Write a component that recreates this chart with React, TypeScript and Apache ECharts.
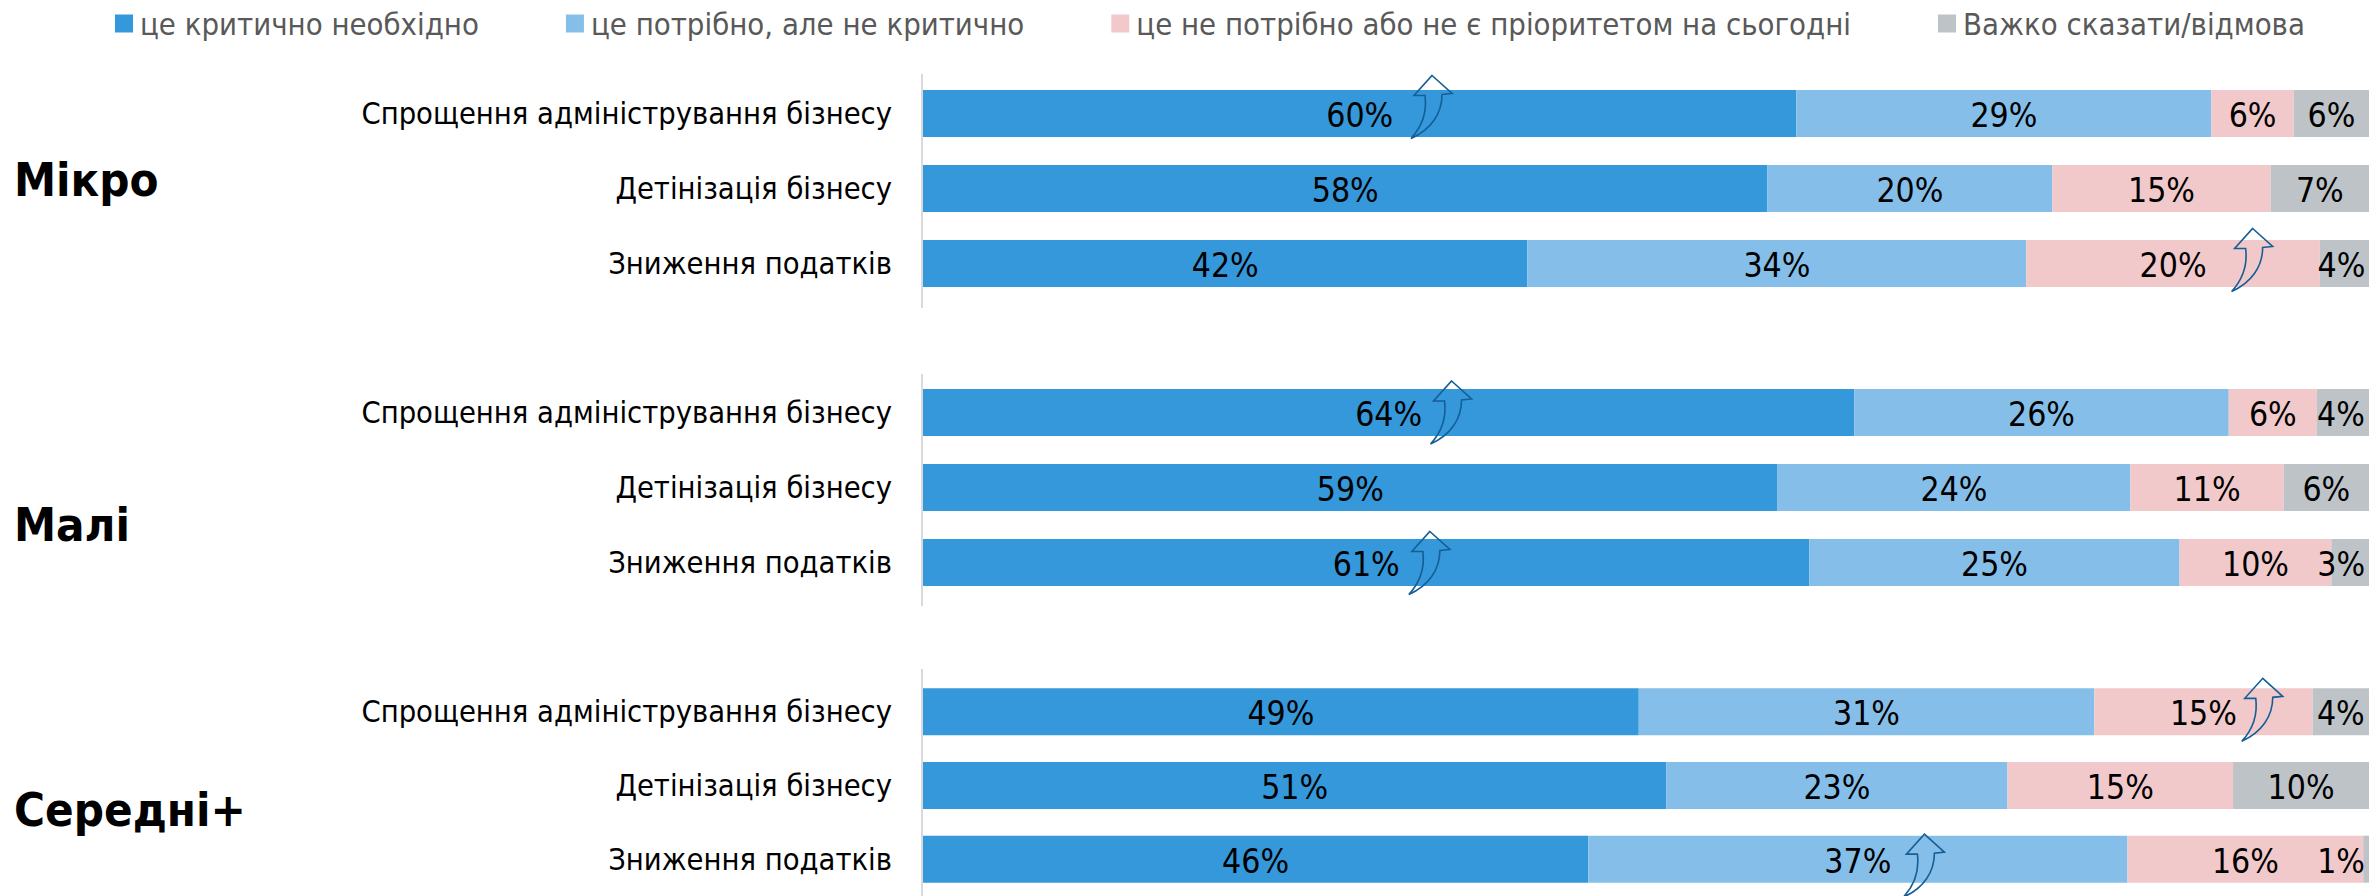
import React, { useEffect, useRef } from "react";
import * as echarts from "echarts";

const FONT = "'DejaVu Sans Condensed', 'DejaVu Sans', sans-serif";

const categories = ["Спрощення адміністрування бізнесу", "Детінізація бізнесу", "Зниження податків"];
const groups = ["Мікро", "Малі", "Середні+"];
const seriesNames = [
  "це критично необхідно",
  "це потрібно, але не критично",
  "це не потрібно або не є пріоритетом на сьогодні",
  "Важко сказати/відмова",
];
const colors = ["#3498DB", "#85BFE9", "#F2C9CB", "#BEC3C7"];

// [Мікро x3, Малі x3, Середні+ x3]
const critical = [60.4, 58.4, 41.8, 64.4, 59.1, 61.3, 49.5, 51.4, 46.0];
const needed = [28.7, 19.7, 34.5, 25.9, 24.4, 25.6, 31.5, 23.6, 37.3];
const notNeeded = [5.7, 15.1, 20.3, 6.1, 10.6, 10.5, 15.1, 15.6, 16.3];
const hardToSay = [5.2, 6.8, 3.4, 3.6, 5.9, 2.6, 3.9, 9.4, 0.4];

const criticalLabels = ["60%", "58%", "42%", "64%", "59%", "61%", "49%", "51%", "46%"];
const neededLabels = ["29%", "20%", "34%", "26%", "24%", "25%", "31%", "23%", "37%"];
const notNeededLabels = ["6%", "15%", "20%", "6%", "11%", "10%", "15%", "15%", "16%"];
const hardToSayLabels = ["6%", "7%", "4%", "4%", "6%", "3%", "4%", "10%", "1%"];
const hardToSayLabelShift = [0, 0, -3, -2, 0, -9, 0, 0, -25];

// group index, category index, value at the arrow's foot, top offset from the bar's centre
const arrowGroup = [0, 0, 1, 1, 2, 2];
const arrowCategory = [0, 2, 0, 2, 0, 2];
const arrowValue = [33.75, 90.5, 35.1, 33.6, 91.2, 67.8];
const arrowTop = [-38, -35, -31.5, -31, -33.5, -25];
const ARROW_PATH = "M21 0 L41 18 L31 19 C31 38 20 54 0 63 C12 50 16 36 14 20 L3 20 Z";

const gridTops = [76, 375, 675];
const gridHeights = [225, 225, 224];
const labelCentres = [180, 525, 810];
const axisSpans = [[74, 308], [374, 606], [669, 896]];

const valueRows = [critical, needed, notNeeded, hardToSay];
const labelRows = [criticalLabels, neededLabels, notNeededLabels, hardToSayLabels];

export default function App() {
  const ref = useRef<HTMLDivElement>(null);
  useEffect(() => {
    const chart = echarts.init(ref.current!, undefined, { renderer: "svg" });
    const series: any[] = [];
    groups.forEach((_, g) => {
      seriesNames.forEach((name, s) => {
        series.push({
          type: "bar",
          name,
          stack: "g" + g,
          xAxisIndex: g,
          yAxisIndex: g,
          barWidth: 47,
          itemStyle: { color: colors[s] },
          data: categories.map((_c, c) => {
            const i = g * 3 + c;
            return {
              value: valueRows[s][i],
              label: {
                show: true,
                position: "inside",
                formatter: labelRows[s][i],
                color: "#000",
                fontFamily: FONT,
                fontSize: 33.5,
                offset: [s === 3 ? hardToSayLabelShift[i] : 0, 2],
              },
            };
          }),
        });
      });
      series.push({
        type: "custom",
        xAxisIndex: g,
        yAxisIndex: g,
        silent: true,
        z: 10,
        encode: { x: 0, y: 1 },
        data: arrowValue
          .map((v, i) => [v, arrowCategory[i], arrowTop[i], arrowGroup[i]])
          .filter((d) => d[3] === g),
        renderItem: (_p: any, api: any) => {
          const pt = api.coord([api.value(0), api.value(1)]);
          return {
            type: "path",
            shape: {
              pathData: ARROW_PATH,
              x: pt[0],
              y: pt[1] + api.value(2),
              width: 41,
              height: 63,
            },
            style: { fill: "none", stroke: "#155E96", lineWidth: 1.6 },
          };
        },
      });
    });
    chart.setOption({
      animation: false,
      backgroundColor: "#fff",
      legend: {
        left: 115,
        top: 8,
        padding: 0,
        itemWidth: 18,
        itemHeight: 18,
        itemGap: 87,
        icon: "rect",
        data: seriesNames,
        selectedMode: false,
        textStyle: { color: "#595959", fontFamily: FONT, fontSize: 30.8, padding: [0, 0, 0, 2] },
      },
      grid: groups.map((_, g) => ({ left: 923, width: 1446, top: gridTops[g], height: gridHeights[g] })),
      xAxis: groups.map((_, g) => ({ type: "value", gridIndex: g, min: 0, max: 100, show: false })),
      yAxis: groups.map((_, g) => ({
        type: "category",
        gridIndex: g,
        inverse: true,
        data: categories,
        axisLine: { show: false },
        axisTick: { show: false },
        axisLabel: { color: "#000", fontFamily: FONT, fontSize: 30.6, margin: 31 },
      })),
      series,
      graphic: [
        ...groups.map((t, g) => ({
          type: "text",
          left: 14,
          top: labelCentres[g] - 24,
          style: { text: t, fontFamily: FONT, fontSize: 47, fontWeight: "bold", fill: "#000" },
        })),
        ...axisSpans.map(([a, b]) => ({
          type: "line",
          shape: { x1: 922, y1: a, x2: 922, y2: b },
          style: { stroke: "#D9D9D9", lineWidth: 2 },
        })),
      ],
    });
    return () => chart.dispose();
  }, []);
  return <div ref={ref} style={{ position: "fixed", left: 0, top: 0, width: 2369, height: 896 }} />;
}
